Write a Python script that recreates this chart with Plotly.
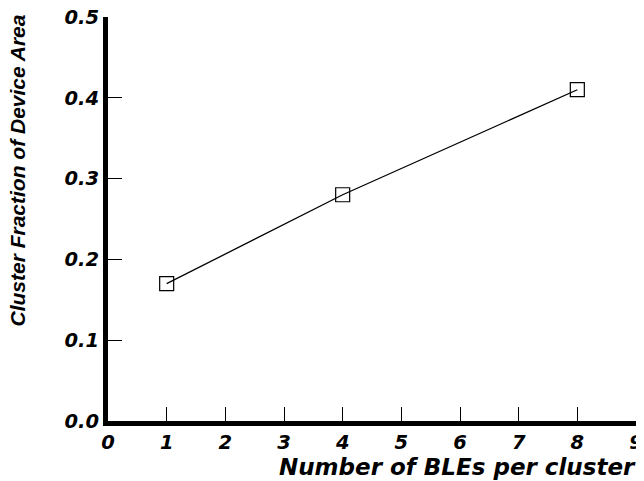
import plotly.graph_objects as go

x_values = [1, 4, 8]
y_values = [0.17, 0.28, 0.41]
x_ticks = list(range(0, 10))
y_ticks = [0.0, 0.1, 0.2, 0.3, 0.4, 0.5]

wide_font = "DejaVu Sans, Verdana, sans-serif"
narrow_font = "Liberation Sans, Arial, sans-serif"

fig = go.Figure()
fig.add_trace(go.Scatter(
    x=x_values, y=y_values, mode="lines+markers",
    line=dict(color="black", width=1.3),
    marker=dict(symbol="square-open", size=14, color="black", line=dict(width=1.2)),
    showlegend=False, cliponaxis=False,
))

tick_font = dict(family=wide_font, size=19.5, color="black", weight="bold", style="italic")

fig.update_layout(
    width=636, height=473,
    margin=dict(l=100, r=8, t=9, b=60),
    paper_bgcolor="white", plot_bgcolor="white",
    xaxis=dict(
        range=[0, 9], tickvals=x_ticks, ticktext=[str(v) for v in x_ticks],
        showgrid=False, zeroline=False, showline=True, linecolor="black", linewidth=5,
        ticks="inside", ticklen=14, tickwidth=1.2, tickcolor="black",
        tickfont=tick_font, automargin=False, ticklabeloverflow="allow",
    ),
    yaxis=dict(
        range=[0, 0.5], tickvals=y_ticks, ticktext=[f"{v:.1f}" for v in y_ticks],
        showgrid=False, zeroline=False, showline=True, linecolor="black", linewidth=5,
        ticks="inside", ticklen=14, tickwidth=1.2, tickcolor="black",
        tickfont=tick_font, automargin=False, ticklabeloverflow="allow",
    ),
    annotations=[
        dict(text="Number of BLEs per cluster", xref="paper", yref="paper",
             x=1.003, y=0, xanchor="right", yanchor="middle", yshift=-46, showarrow=False,
             font=dict(family=wide_font, size=23, color="black", weight="bold", style="italic")),
        dict(text="Cluster Fraction of Device Area", xref="paper", yref="paper",
             x=0, xshift=-90, y=0.62, xanchor="center", yanchor="middle", textangle=-90,
             showarrow=False,
             font=dict(family=narrow_font, size=21, color="black", weight="bold", style="italic")),
    ],
)

fig.write_html("out.html")
